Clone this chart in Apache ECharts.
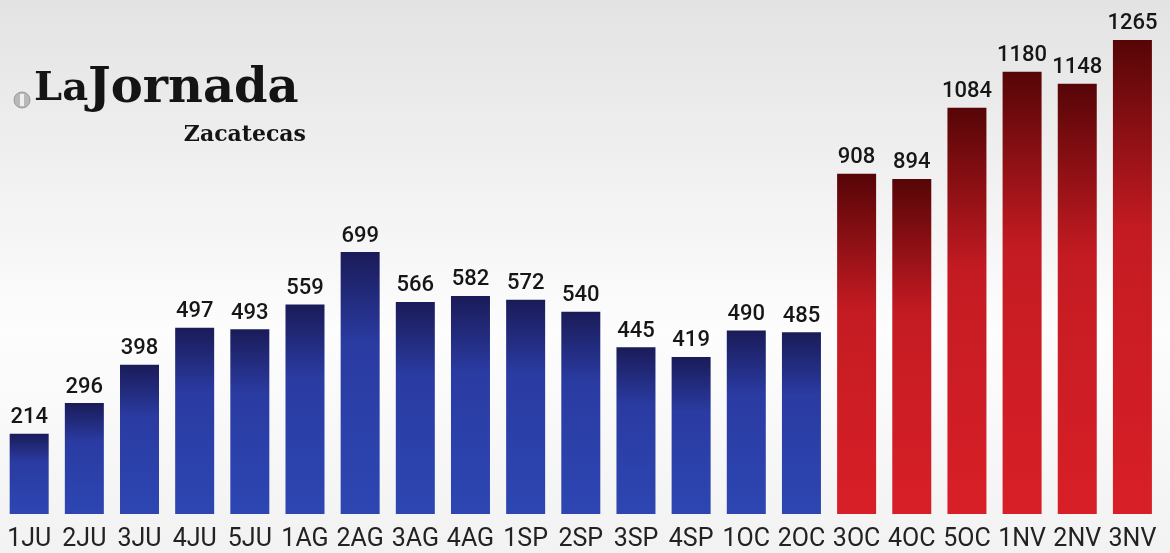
<!DOCTYPE html>
<html>
<head>
<meta charset="utf-8">
<script src="https://cdn.jsdelivr.net/npm/echarts@6/dist/echarts.min.js"></script>
<style>
  html, body { margin: 0; padding: 0; }
  #chart { width: 1170px; height: 553px; }
</style>
</head>
<body>
<div id="chart"></div>
<script>
const categories = ['1JU', '2JU', '3JU', '4JU', '5JU', '1AG', '2AG', '3AG', '4AG', '1SP', '2SP',
  '3SP', '4SP', '1OC', '2OC', '3OC', '4OC', '5OC', '1NV', '2NV', '3NV'];
const values = [214, 296, 398, 497, 493, 559, 699, 566, 582, 572, 540,
  445, 419, 490, 485, 908, 894, 1084, 1180, 1148, 1265];
// las barras desde 3OC van en rojo
const redFrom = 15;

const FONT = 'Roboto, sans-serif';

const blue = new echarts.graphic.LinearGradient(0, 0, 0, 1, [
  { offset: 0, color: '#1a1b58' },
  { offset: 0.35, color: '#2a3ba2' },
  { offset: 1, color: '#2d46b2' }
]);
const red = new echarts.graphic.LinearGradient(0, 0, 0, 1, [
  { offset: 0, color: '#560507' },
  { offset: 0.4, color: '#c41b22' },
  { offset: 1, color: '#d81f27' }
]);

const chart = echarts.init(document.getElementById('chart'));
chart.setOption({
  backgroundColor: new echarts.graphic.LinearGradient(0, 0, 0, 1, [
    { offset: 0, color: '#e3e3e3' },
    { offset: 0.6, color: '#fdfdfd' },
    { offset: 1, color: '#f2f2f2' }
  ]),
  grid: { left: 1.6, right: 10, top: 10, bottom: 39 },
  xAxis: {
    type: 'category',
    data: categories,
    axisLine: { show: false },
    axisTick: { show: false },
    axisLabel: {
      interval: 0,
      margin: 13,
      fontFamily: FONT,
      fontSize: 25,
      color: '#222222'
    }
  },
  yAxis: { type: 'value', min: 0, max: 1345, show: false, splitLine: { show: false } },
  graphic: [
    { type: 'circle', shape: { cx: 22, cy: 100, r: 8 }, style: { fill: '#b8b8b8', stroke: '#9a9a9a', lineWidth: 1 } },
    { type: 'rect', shape: { x: 20, y: 94, width: 4, height: 12 }, style: { fill: '#eeeeee' } },
    {
      type: 'text', left: 34, top: 66,
      style: {
        text: '{a|La}{b|Jornada}',
        rich: {
          a: { fontFamily: 'DejaVu Serif', fontWeight: 'bold', fontSize: 40, fill: '#141414' },
          b: { fontFamily: 'DejaVu Serif', fontWeight: 'bold', fontSize: 48, fill: '#141414' }
        }
      }
    },
    {
      type: 'text', right: 864, top: 124,
      style: { text: 'Zacatecas', fontFamily: 'DejaVu Serif', fontWeight: 'bold', fontSize: 22, fill: '#141414' }
    }
  ],
  series: [{
    type: 'bar',
    barWidth: 39,
    data: values.map((v, i) => ({ value: v, itemStyle: { color: i < redFrom ? blue : red } })),
    label: {
      show: true,
      position: 'top',
      distance: 5,
      fontFamily: FONT,
      fontSize: 22,
      fontWeight: 500,
      color: '#161616'
    }
  }]
});
</script>
</body>
</html>
